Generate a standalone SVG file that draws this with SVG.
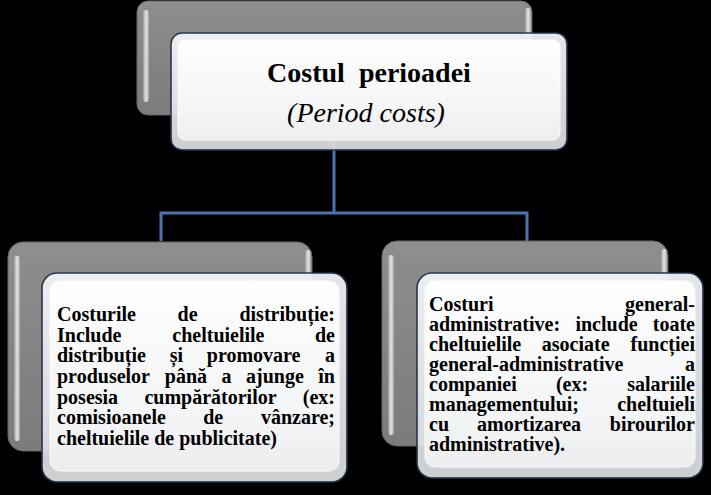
<svg xmlns="http://www.w3.org/2000/svg" width="711" height="495" viewBox="0 0 711 495">
<defs>
<linearGradient id="wg" x1="0" y1="0" x2="0" y2="1">
<stop offset="0" stop-color="#f4f5f6"/>
<stop offset="1" stop-color="#dadbdd"/>
</linearGradient>
<linearGradient id="wig" x1="0" y1="0" x2="0" y2="1">
<stop offset="0" stop-color="#ffffff"/>
<stop offset="0.7" stop-color="#f6f7f8"/>
<stop offset="1" stop-color="#eeeff1"/>
</linearGradient>
<linearGradient id="hlg" x1="0" y1="0" x2="1" y2="0">
<stop offset="0" stop-color="#9a9a9a"/>
<stop offset="0.5" stop-color="#f0f0f0"/>
<stop offset="1" stop-color="#a8a8a8"/>
</linearGradient>
<linearGradient id="gg" x1="0" y1="0" x2="0" y2="1">
<stop offset="0" stop-color="#8e8e8e"/>
<stop offset="1" stop-color="#7b7b7b"/>
</linearGradient>
</defs>
<style>
.gb{fill:url(#gg);stroke:#666;stroke-width:1}
.hl{fill:url(#hlg);opacity:0.9}
.wb{fill:url(#wg);stroke:#22324d;stroke-width:1.6;opacity:0.94}
.wi{fill:url(#wig);stroke:#ffffff;stroke-width:1;opacity:0.95}
.conn{stroke:#4a74ad;stroke-width:3;fill:none}
.t{font-family:"Liberation Serif","Times New Roman",serif;font-weight:bold;font-size:20px;fill:#000}
.e{text-anchor:end}
.h1{font-family:"Liberation Serif","Times New Roman",serif;font-weight:bold;font-size:28px;fill:#000;white-space:pre}
.h2{font-family:"Liberation Serif","Times New Roman",serif;font-style:italic;font-size:28px;fill:#000}
</style>
<rect width="711" height="495" fill="#000"/>
<g id="connectors">
<path class="conn" d="M334,120 V213 M161,241 V213 H527 V241"/>
</g>
<g id="node-top">
<rect class="gb" x="137" y="1" width="395" height="114" rx="11"/>
<rect class="hl" x="143" y="10" width="6" height="92" rx="3"/>
<rect class="hl" x="525" y="8" width="6" height="28" rx="3"/>
<rect class="wb" x="171" y="33" width="396" height="117" rx="11"/>
<rect class="wi" x="178" y="40" width="382" height="100" rx="7"/>
<text class="h1" x="369" y="82" text-anchor="middle" xml:space="preserve">Costul  perioadei</text>
<text class="h2" x="366" y="122" text-anchor="middle">(Period costs)</text>
</g>
<g id="node-left">
<rect class="gb" x="8" y="242" width="304" height="209" rx="15"/>
<rect class="hl" x="14" y="256" width="6" height="185" rx="3"/>
<rect class="hl" x="305" y="250" width="6" height="25" rx="3"/>
<rect class="wb" x="42" y="273" width="305" height="209" rx="15"/>
<rect class="wi" x="50" y="281" width="289" height="190" rx="10"/>
<text class="t" y="321"><tspan x="57">Costurile</tspan><tspan x="177.6">de</tspan><tspan x="335" class="e">distribuție:</tspan></text>
<text class="t" y="341.7"><tspan x="57">Include</tspan><tspan x="172.3">cheltuielile</tspan><tspan x="335" class="e">de</tspan></text>
<text class="t" y="362.3"><tspan x="57">distribuție</tspan><tspan x="169.7">și</tspan><tspan x="206.8">promovare</tspan><tspan x="335" class="e">a</tspan></text>
<text class="t" y="383"><tspan x="57">produselor</tspan><tspan x="164.8">până</tspan><tspan x="221.5">a</tspan><tspan x="246">ajunge</tspan><tspan x="335" class="e">în</tspan></text>
<text class="t" y="403.7"><tspan x="57">posesia</tspan><tspan x="144.4">cumpărătorilor</tspan><tspan x="335" class="e">(ex:</tspan></text>
<text class="t" y="424.3"><tspan x="57">comisioanele</tspan><tspan x="203.2">de</tspan><tspan x="335" class="e">vânzare;</tspan></text>
<text class="t" x="57" y="445">cheltuielile de publicitate)</text>
</g>
<g id="node-right">
<rect class="gb" x="382" y="241" width="286" height="205" rx="15"/>
<rect class="hl" x="388" y="255" width="6" height="180" rx="3"/>
<rect class="hl" x="661" y="249" width="6" height="25" rx="3"/>
<rect class="wb" x="417" y="273" width="286" height="205" rx="15"/>
<rect class="wi" x="425" y="281" width="270" height="186" rx="10"/>
<text class="t" y="311"><tspan x="429">Costuri</tspan><tspan x="695" class="e">general-</tspan></text>
<text class="t" y="331"><tspan x="429">administrative:</tspan><tspan x="575.4">include</tspan><tspan x="695" class="e">toate</tspan></text>
<text class="t" y="351"><tspan x="429">cheltuielile</tspan><tspan x="541.8">asociate</tspan><tspan x="695" class="e">funcției</tspan></text>
<text class="t" y="371"><tspan x="429">general-administrative</tspan><tspan x="695" class="e">a</tspan></text>
<text class="t" y="391"><tspan x="429">companiei</tspan><tspan x="555.9">(ex:</tspan><tspan x="695" class="e">salariile</tspan></text>
<text class="t" y="411"><tspan x="429">managementului;</tspan><tspan x="695" class="e">cheltuieli</tspan></text>
<text class="t" y="431"><tspan x="429">cu</tspan><tspan x="477">amortizarea</tspan><tspan x="695" class="e">birourilor</tspan></text>
<text class="t" x="429" y="451">administrative).</text>
</g>
</svg>
